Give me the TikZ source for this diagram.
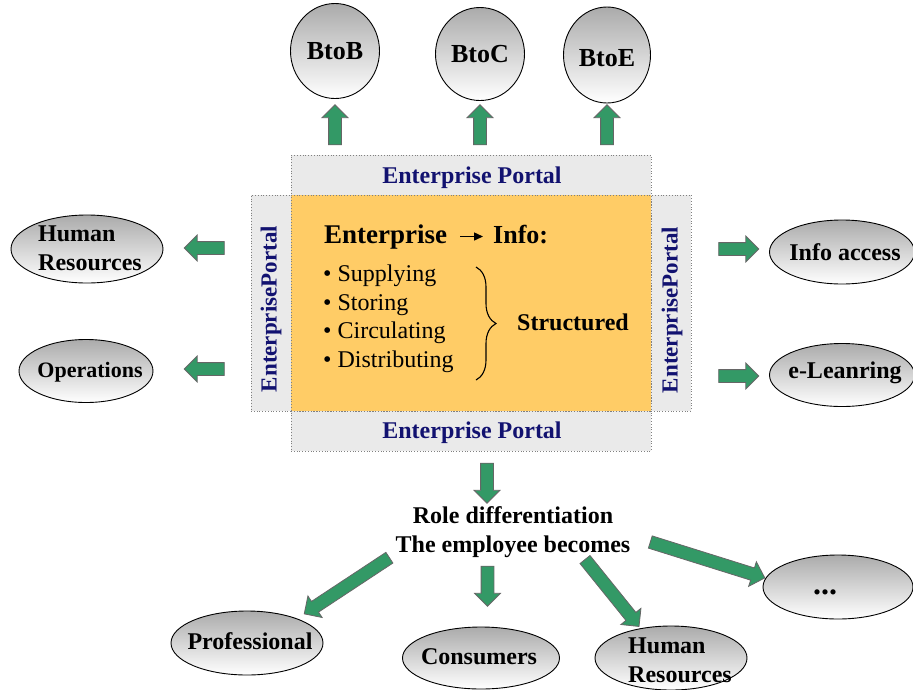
\documentclass[tikz,border=0pt]{standalone}
\usepackage{fontspec}
\setmainfont{Liberation Serif}
\usetikzlibrary{shapes.geometric, shapes.arrows, arrows.meta, decorations.pathreplacing}

\definecolor{portalgray}{RGB}{234,234,234}
\definecolor{coreorange}{RGB}{255,204,102}
\definecolor{portalblue}{RGB}{18,18,112}
\definecolor{arrowgreen}{RGB}{51,153,102}

\tikzset{
  portal/.style={draw=gray, dotted, line width=0.8pt, fill=portalgray, inner sep=0pt},
  core/.style={draw=gray, dotted, line width=0.8pt, fill=coreorange, inner sep=0pt},
  portal text/.style={text=portalblue, inner sep=0pt, font=\bfseries\fontsize{24}{28}\selectfont},
  bubble/.style={ellipse, draw, line width=0.9pt, top color=black!33, bottom color=white, inner sep=0pt},
  tag/.style={inner sep=0pt, align=left, font=\bfseries\fontsize{24}{29}\selectfont},
  bigarrow/.style={single arrow, draw=black!60, line width=0.8pt, fill=arrowgreen, inner xsep=0pt, inner ysep=6pt,
    minimum width=25pt, single arrow head extend=6.5pt, minimum height=40pt},
}

\begin{document}
\begin{tikzpicture}[x=1pt, y=-1pt]
    \useasboundingbox (0,0) rectangle (913,689);

    % portal frame around the core
    \node[portal, minimum width=40pt, minimum height=216pt] (pleft) at (271,303) {};
    \node[portal, minimum width=40pt, minimum height=216pt] (pright) at (671,303) {};
    \node[portal, minimum width=360pt, minimum height=40pt] (ptop) at (471,175) {};
    \node[portal, minimum width=360pt, minimum height=40pt] (pbottom) at (471,431) {};
    \node[core, minimum width=360pt, minimum height=216pt] (core) at (471,303) {};

    \node[portal text] (ptop text) at (472,178) {Enterprise Portal};
    \node[portal text] (pbottom text) at (472,433) {Enterprise Portal};
    \node[portal text, rotate=90, font=\bfseries\fontsize{23}{28}\selectfont] (pleft text) at (271,309) {EnterprisePortal};
    \node[portal text, rotate=90, font=\bfseries\fontsize{23}{28}\selectfont] (pright text) at (672,310) {EnterprisePortal};

    % core content
    \node[anchor=base west, inner sep=0pt, text height=19pt, text depth=6pt,
      font=\bfseries\fontsize{27}{32}\selectfont] (ent) at (324,243) {Enterprise};
    \node[anchor=base west, inner sep=0pt, text height=19pt, text depth=6pt,
      font=\bfseries\fontsize{26}{32}\selectfont] (info) at (493,243) {Info:};
    \draw[-{Triangle[length=9pt,width=8pt]}, line width=1.4pt, shorten <=13pt, shorten >=10pt] (ent.east) -- (info.west);

    \node[anchor=west, inner sep=0pt, align=left, font=\fontsize{24}{28.5}\selectfont] (steps) at (323,319)
      {• Supplying\\• Storing\\• Circulating\\• Distributing};
    \draw[decorate, decoration={brace, amplitude=20pt, aspect=0.5}, line width=1.1pt] (476,267) -- (476,380);
    \node[tag, anchor=west] (structured) at (517,322) {Structured};

    % top circles
    \node[bubble, minimum width=89pt, minimum height=95pt, font=\bfseries\fontsize{26}{30}\selectfont] (btob) at (335,51) {BtoB};
    \node[bubble, minimum width=89pt, minimum height=93pt, font=\bfseries\fontsize{26}{30}\selectfont] (btoc) at (480,54) {BtoC};
    \node[bubble, minimum width=87pt, minimum height=96pt, font=\bfseries\fontsize{26}{30}\selectfont] (btoe) at (607,55) {};
    \node[font=\bfseries\fontsize{26}{30}\selectfont, inner sep=0pt] (btoe text) at (607,58) {BtoE};

    \node[bigarrow, rotate=90] (up b) at (335,128) {};
    \node[bigarrow, rotate=90] (up c) at (480,128) {};
    \node[bigarrow, rotate=90] (up e) at (607,128) {};

    % left and right
    \node[bubble, minimum width=152pt, minimum height=68pt] (hrleft) at (87,249) {};
    \node[tag] (hrleft text) at (90,248) {Human\\Resources};
    \node[bubble, minimum width=134pt, minimum height=63pt] (ops) at (86,371) {};
    \node[tag, font=\bfseries\fontsize{22}{26}\selectfont] (ops text) at (90,372) {Operations};
    \node[bubble, minimum width=145pt, minimum height=64pt] (access) at (842,252) {};
    \node[tag] (access text) at (845,252) {Info access};
    \node[bubble, minimum width=145pt, minimum height=63pt] (elearn) at (842,375) {};
    \node[tag] (elearn text) at (845,373) {e-Leanring};

    \node[bigarrow, rotate=180] (to hr) at (207.5,248) {};
    \node[bigarrow, rotate=180] (to ops) at (207.5,369) {};
    \node[bigarrow] (to access) at (735.5,249) {};
    \node[bigarrow] (to elearn) at (735.5,376) {};

    % roles below
    \node[bigarrow, rotate=-90] (down) at (487,480) {};
    \node[tag, align=center] (roles) at (513,532) {Role differentiation\\The employee becomes};
    \node[bigarrow, rotate=-90] (to cons) at (487.5,583) {};
    \node[bigarrow, rotate=213.4, minimum height=102pt] (to prof) at (349.5,584) {};
    \node[bigarrow, rotate=-51.1, minimum height=86pt] (to hrb) at (610,590.5) {};
    \node[bigarrow, rotate=-17.4, minimum height=120pt] (to more) at (704.5,559) {};

    \node[bubble, minimum width=152pt, minimum height=64pt] (prof) at (247,643) {};
    \node[tag] (prof text) at (250,641) {Professional};
    \node[bubble, minimum width=157pt, minimum height=62pt] (cons) at (481,658) {};
    \node[tag] (cons text) at (479,657) {Consumers};
    \node[bubble, minimum width=152pt, minimum height=64pt] (hrb) at (671,658) {};
    \node[tag] (hrb text) at (680,660) {Human\\Resources};
    \node[bubble, minimum width=150pt, minimum height=64pt] (more) at (838,587) {};
    \node[tag, font=\bfseries\fontsize{32}{32}\selectfont] (more text) at (825,592) {...};
\end{tikzpicture}
\end{document}
